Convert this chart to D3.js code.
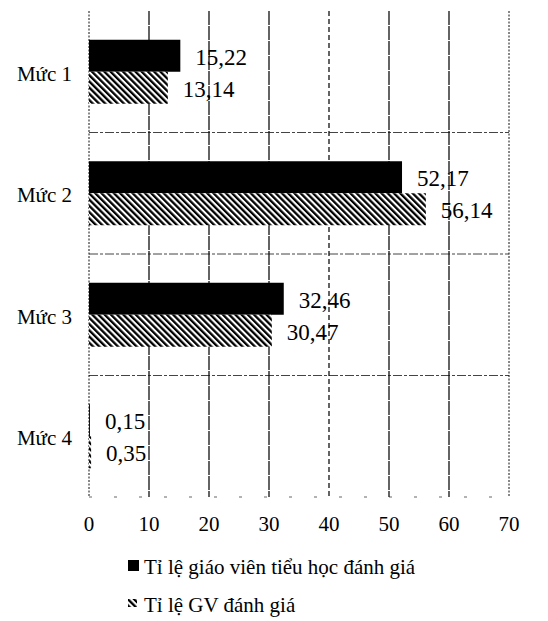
<!DOCTYPE html>
<html><head><meta charset="utf-8">
<script src="https://cdn.jsdelivr.net/npm/d3@7"></script>
</head><body style="margin:0;background:#fff">
<svg id="c" width="548" height="621"></svg>
<script>
const categories = ["Mức 1","Mức 2","Mức 3","Mức 4"];
const seriesNames = ["Tỉ lệ giáo viên tiểu học đánh giá","Tỉ lệ GV đánh giá"];
const seriesA = [15.22, 52.17, 32.46, 0.15];
const seriesB = [13.14, 56.14, 30.47, 0.35];
const xTicks = [0,10,20,30,40,50,60,70];

const svg = d3.select("#c");
const x = d3.scaleLinear().domain([0,70]).range([89,509]);
const y = d3.scaleBand().domain(categories).range([11,497]).paddingInner(0);
const inner = d3.scaleBand().domain([0,1]).range([0,64]);
const barOff = (y.bandwidth()-64)/2;

function txt(sel, size){ return sel.style("font-family",'"Liberation Serif", monospace').attr("font-size",size).attr("fill","#000"); }

const defs = svg.append("defs");
const pat = defs.append("pattern").attr("id","hatch").attr("patternUnits","userSpaceOnUse")
  .attr("width",4.4).attr("height",4.4).attr("patternTransform","rotate(-45)");
pat.append("rect").attr("width",4.4).attr("height",4.4).attr("fill","#fff");
pat.append("rect").attr("width",2.3).attr("height",4.4).attr("fill","#000");

const bounds = categories.slice(1).map(c=>y(c));
svg.append("g").selectAll("line").data(bounds).join("line")
  .attr("x1",x(0)).attr("x2",x(70)).attr("y1",d=>d).attr("y2",d=>d)
  .attr("stroke","#444").attr("stroke-width",1).attr("stroke-dasharray","9,2,3,2");
svg.append("line").attr("x1",x(0)).attr("x2",x(70)).attr("y1",497).attr("y2",497)
  .attr("stroke","#666").attr("stroke-width",1).attr("stroke-dasharray","3,22");

svg.append("g").selectAll("line").data(xTicks).join("line")
  .attr("x1",d=>x(d)).attr("x2",d=>x(d)).attr("y1",11).attr("y2",497)
  .attr("stroke","#111").attr("stroke-width",d=>(d===0||d===70)?1:1.3)
  .attr("stroke-dasharray",d=>(d===0||d===70)?"2,1.5":(d===40?"5,3":"14,1"));

const g = svg.append("g");
categories.forEach((c,i)=>{
  [[seriesA[i],"#000"],[seriesB[i],"url(#hatch)"]].forEach(([v,f],k)=>{
    const y0 = y(c)+barOff+inner(k);
    g.append("rect").attr("x",x(0)).attr("y",y0).attr("width",x(v)-x(0)).attr("height",inner.bandwidth()).attr("fill",f);
    txt(g.append("text"),23).attr("x",x(v)+15).attr("y",y0+inner.bandwidth()/2+9)
      .text(d3.format(".2f")(v).replace(".",","));
  });
  txt(svg.append("text"),21).attr("x",72).attr("y",y(c)+y.bandwidth()/2+9).attr("text-anchor","end").text(c);
});

txt(svg.append("g").selectAll("text").data(xTicks).join("text"),21)
  .attr("x",d=>x(d)).attr("y",531).attr("text-anchor","middle").text(d=>d);

svg.append("rect").attr("x",128).attr("y",560).attr("width",11).attr("height",11).attr("fill","#000");
txt(svg.append("text"),21).attr("x",144).attr("y",574).text(seriesNames[0]);
svg.append("rect").attr("x",128).attr("y",599).attr("width",9).attr("height",8).attr("fill","url(#hatch)");
txt(svg.append("text"),21).attr("x",144).attr("y",612).text(seriesNames[1]);
</script>
</body></html>
